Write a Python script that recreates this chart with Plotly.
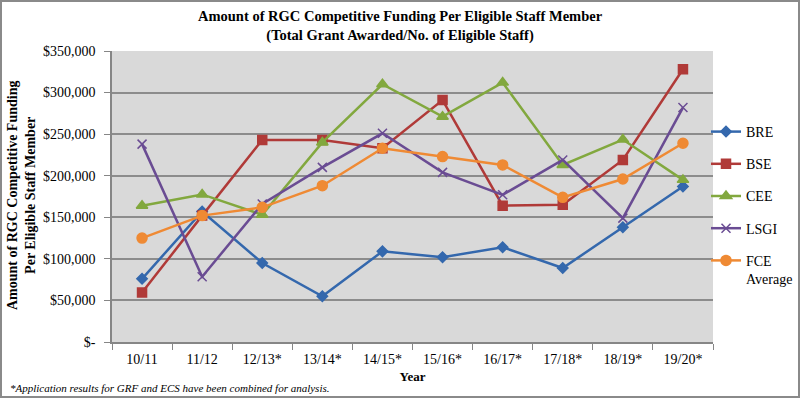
import plotly.graph_objects as go

years = ["10/11", "11/12", "12/13*", "13/14*", "14/15*", "15/16*", "16/17*", "17/18*", "18/19*", "19/20*"]
bre = [76000, 157000, 95000, 55000, 109000, 102000, 114000, 89000, 138000, 187000]
bse = [59500, 152000, 243000, 243000, 233000, 291000, 164000, 165000, 219000, 328000]
cee = [164000, 177500, 153000, 240000, 310000, 271000, 312000, 213000, 243500, 195000]
lsgi = [238000, 78500, 166000, 210000, 251000, 204000, 177000, 219000, 149000, 282000]
fce = [125000, 152000, 162000, 188000, 233000, 223000, 213000, 174000, 196000, 239000]

y_ticks = [0, 50000, 100000, 150000, 200000, 250000, 300000, 350000]
y_labels = ["$-", "$50,000", "$100,000", "$150,000", "$200,000", "$250,000", "$300,000", "$350,000"]

series = [
    ("BRE", bre, "#3468ad", "diamond", 8),
    ("BSE", bse, "#b03a38", "square", 9),
    ("CEE", cee, "#82a83e", "triangle-up", 10),
    ("LSGI", lsgi, "#6a4c93", "x-thin", 9),
    ("FCE<br>Average", fce, "#ef8a34", "circle", 10),
]

fig = go.Figure()
for i, (name, vals, col, sym, sz) in enumerate(series):
    fig.add_trace(go.Scatter(
        x=years, y=vals, name=name, mode="lines+markers", legendgroup="g%d" % i,
        line=dict(color=col, width=2.5),
        marker=dict(symbol=sym, size=sz, color=col, line=dict(color=col, width=1.5)),
    ))

serif = "Liberation Serif, Times New Roman, serif"
L, R, T, B = 112, 87, 51, 56
W, H = 800, 398
pw, ph = W - L - R, H - T - B

def px(x):
    return (x - L) / pw

def py(y):
    return (H - B - y) / ph

fig.update_layout(
    width=W, height=H,
    margin=dict(l=L, r=R, t=T, b=B, autoexpand=False),
    paper_bgcolor="white",
    plot_bgcolor="#d9d9d9",
    font=dict(family=serif, size=13, color="black"),
    showlegend=True,
    legend=dict(
        x=px(706), y=py(116), xanchor="left", yanchor="top", valign="top",
        font=dict(family=serif, size=14, color="black"),
        tracegroupgap=11, itemwidth=30, bgcolor="rgba(0,0,0,0)",
    ),
    xaxis=dict(
        type="category", range=[-0.5, 9.5],
        tickson="boundaries", ticks="outside", ticklen=6, tickcolor="#868686",
        ticklabelstandoff=3,
        showline=True, linecolor="#868686", linewidth=1.5,
        showgrid=False, tickfont=dict(family=serif, size=14),
        title=dict(text="<b>Year</b>", font=dict(family=serif, size=13), standoff=6),
    ),
    yaxis=dict(
        range=[0, 350000], tickvals=y_ticks, ticktext=y_labels,
        ticks="outside", ticklen=6, tickcolor="#868686", ticklabelstandoff=6,
        showline=True, linecolor="#868686", linewidth=1.5,
        showgrid=True, gridcolor="#8c8c8c", gridwidth=1.5,
        tickfont=dict(family=serif, size=14), zeroline=False,
    ),
    annotations=[
        dict(text="<b>Amount of RGC Competitive Funding Per Eligible Staff Member<br>(Total Grant Awarded/No. of Eligible Staff)</b>",
             x=px(400), y=py(26), xref="paper", yref="paper", showarrow=False,
             font=dict(family=serif, size=14.5), xanchor="center", yanchor="middle"),
        dict(text="<b>Amount of RGC Competitive Funding<br>Per Eligible Staff Member</b>",
             x=px(21), y=py(196), xref="paper", yref="paper", showarrow=False, textangle=-90,
             font=dict(family=serif, size=14), xanchor="center", yanchor="middle"),
        dict(text="<i>*Application results for GRF and ECS have been combined for analysis.</i>",
             x=px(8), y=py(388), xref="paper", yref="paper", showarrow=False,
             font=dict(family="Liberation Sans Narrow", size=11),
             xanchor="left", yanchor="middle"),
    ],
    shapes=[
        dict(type="rect", xref="paper", yref="paper",
             x0=px(1), x1=px(799), y0=py(397), y1=py(1),
             line=dict(color="#8a8a8a", width=2), fillcolor="rgba(0,0,0,0)", layer="below"),
    ],
)

fig.write_html("out.html", config={"displayModeBar": False},
               post_script="document.body.style.margin='0';document.body.style.padding='0';")
